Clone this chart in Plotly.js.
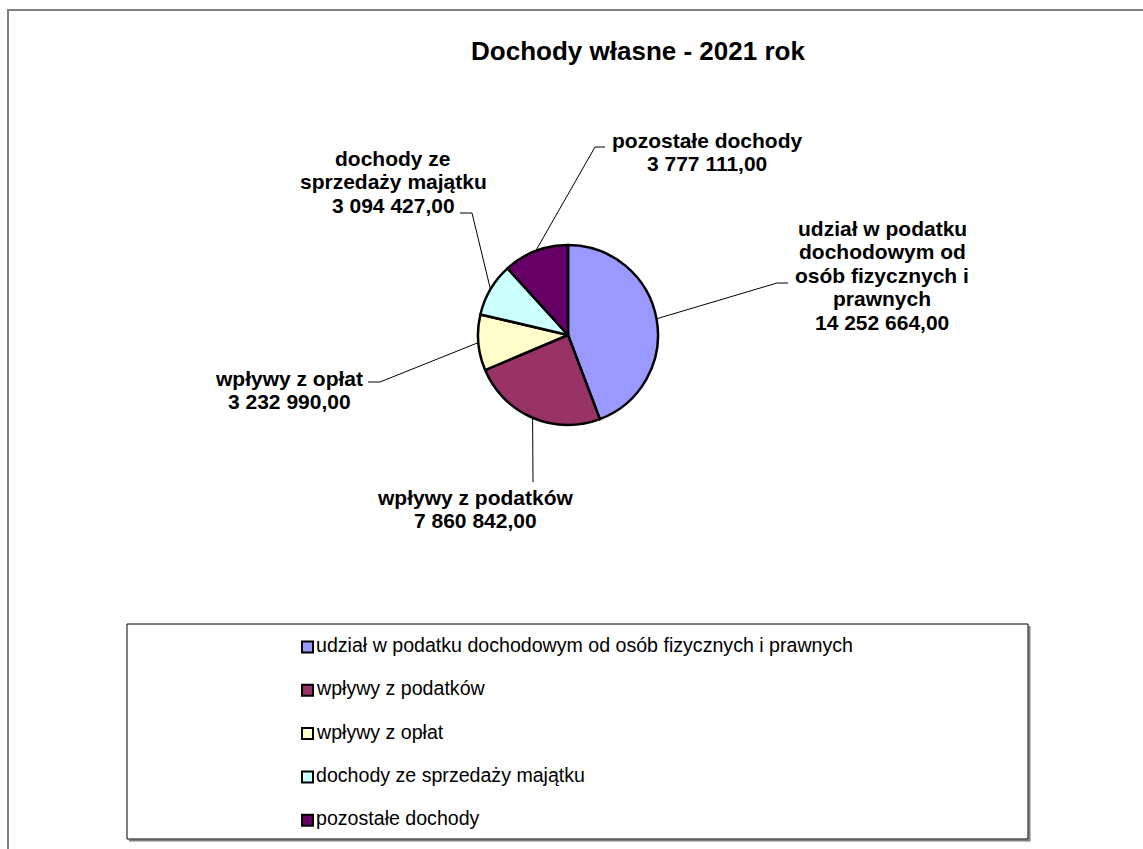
<!DOCTYPE html>
<html>
<head>
<meta charset="utf-8">
<script src="https://cdn.plot.ly/plotly-3.0.1.min.js"></script>
<style>html,body{margin:0;padding:0;background:#fff;}#chart{width:1143px;height:849px;}</style>
</head>
<body>
<div id="chart"></div>
<script>
// ---- data ----
const chartTitle = 'Dochody własne - 2021 rok';
const categories = [
  'udział w podatku dochodowym od osób fizycznych i prawnych',
  'wpływy z podatków',
  'wpływy z opłat',
  'dochody ze sprzedaży majątku',
  'pozostałe dochody'
];
const values = [14252664.00, 7860842.00, 3232990.00, 3094427.00, 3777111.00];
const labelLines = [
  ['udział w podatku', 'dochodowym od', 'osób fizycznych i', 'prawnych'],
  ['wpływy z podatków'],
  ['wpływy z opłat'],
  ['dochody ze', 'sprzedaży majątku'],
  ['pozostałe dochody']
];
const colors = ['#9999FF', '#993366', '#FFFFCC', '#CCFFFF', '#660066'];

// ---- layout constants (pixels) ----
const W = 1143, H = 849;
const CX = 568, CY = 335, R = 90;
const FONT = 'Liberation Sans, Arial, sans-serif';
// label block: center x, first line y, knee point, stub end
const labelPos = [
  {x: 882, y: 228, knee: [777, 283], stub: [788, 283]},
  {x: 475, y: 497, knee: [533, 482], stub: null},
  {x: 289, y: 378, knee: [380, 382], stub: [368, 382]},
  {x: 393, y: 158, knee: [472, 213], stub: [460, 213]},
  {x: 707, y: 140, knee: [595, 147], stub: [605, 147]}
];
const LINE_H = 23.6;
const legendBox = {x0: 127, y0: 624, x1: 1028, y1: 839};
const legendItemX = 302, legendFirstY = 645, legendStep = 43.3, swatch = 11;

const X = x => x / W;
const Y = y => 1 - y / H;

function fmt(v) {
  const parts = v.toFixed(2).split('.');
  const intPart = parts[0].replace(/\B(?=(\d{3})+(?!\d))/g, ' ');
  return intPart + ',' + parts[1];
}

const total = values.reduce((a, b) => a + b, 0);
let cum = 0;
const shapes = [];
const annotations = [];

// chart area border
shapes.push({type: 'rect', xref: 'paper', yref: 'paper', x0: X(8), x1: X(1165), y0: Y(10), y1: Y(875),
  line: {color: '#808080', width: 2}, fillcolor: 'rgba(0,0,0,0)', layer: 'below'});

values.forEach((v, i) => {
  const mid = (cum + v / 2) / total * 2 * Math.PI;
  cum += v;
  const ex = CX + R * Math.sin(mid), ey = CY - R * Math.cos(mid);
  const p = labelPos[i];
  let path = 'M ' + X(ex) + ' ' + Y(ey) + ' L ' + X(p.knee[0]) + ' ' + Y(p.knee[1]);
  if (p.stub) path += ' L ' + X(p.stub[0]) + ' ' + Y(p.stub[1]);
  shapes.push({type: 'path', xref: 'paper', yref: 'paper', path: path, line: {color: '#000', width: 1}});
  const lines = labelLines[i].concat([fmt(v)]);
  lines.forEach((t, k) => {
    annotations.push({xref: 'paper', yref: 'paper', x: X(p.x), y: Y(p.y + k * LINE_H),
      xanchor: 'center', yanchor: 'middle', showarrow: false, text: t,
      font: {family: FONT, size: 21, color: '#000', weight: 'bold'}});
  });
});

// legend box with shadow
shapes.push({type: 'path', xref: 'paper', yref: 'paper',
  path: 'M ' + X(legendBox.x1 + 1.5) + ' ' + Y(legendBox.y0 + 2) + ' L ' + X(legendBox.x1 + 1.5) + ' ' + Y(legendBox.y1 + 1.5) +
        ' L ' + X(legendBox.x0 + 2) + ' ' + Y(legendBox.y1 + 1.5),
  line: {color: '#808080', width: 2}});
shapes.push({type: 'rect', xref: 'paper', yref: 'paper', x0: X(legendBox.x0), x1: X(legendBox.x1),
  y0: Y(legendBox.y0), y1: Y(legendBox.y1), line: {color: '#000', width: 1}, fillcolor: 'rgba(0,0,0,0)'});

categories.forEach((c, i) => {
  const yc = legendFirstY + i * legendStep;
  shapes.push({type: 'rect', xref: 'paper', yref: 'paper',
    x0: X(legendItemX), x1: X(legendItemX + swatch), y0: Y(yc + 2 - swatch / 2), y1: Y(yc + 2 + swatch / 2),
    fillcolor: colors[i], line: {color: '#000', width: 2}});
  annotations.push({xref: 'paper', yref: 'paper', x: X(legendItemX + swatch + 1), y: Y(yc),
    xanchor: 'left', yanchor: 'middle', showarrow: false, text: c,
    font: {family: FONT, size: 19.6, color: '#000'}});
});

const trace = {
  type: 'pie',
  labels: categories,
  values: values,
  sort: false,
  direction: 'clockwise',
  rotation: 0,
  textinfo: 'none',
  hoverinfo: 'skip',
  marker: {colors: colors, line: {color: '#000', width: 2.5}},
  domain: {x: [X(CX - R), X(CX + R)], y: [Y(CY + R), Y(CY - R)]},
  showlegend: false
};

const layout = {
  width: W, height: H,
  margin: {l: 0, r: 0, t: 0, b: 0},
  paper_bgcolor: '#fff',
  showlegend: false,
  title: {text: chartTitle, x: X(638), xanchor: 'center', xref: 'paper', y: Y(51), yref: 'container', yanchor: 'middle',
    font: {family: FONT, size: 26, color: '#000', weight: 'bold'}},
  shapes: shapes,
  annotations: annotations
};

Plotly.newPlot('chart', [trace], layout, {displayModeBar: false, staticPlot: true});
</script>
</body>
</html>
